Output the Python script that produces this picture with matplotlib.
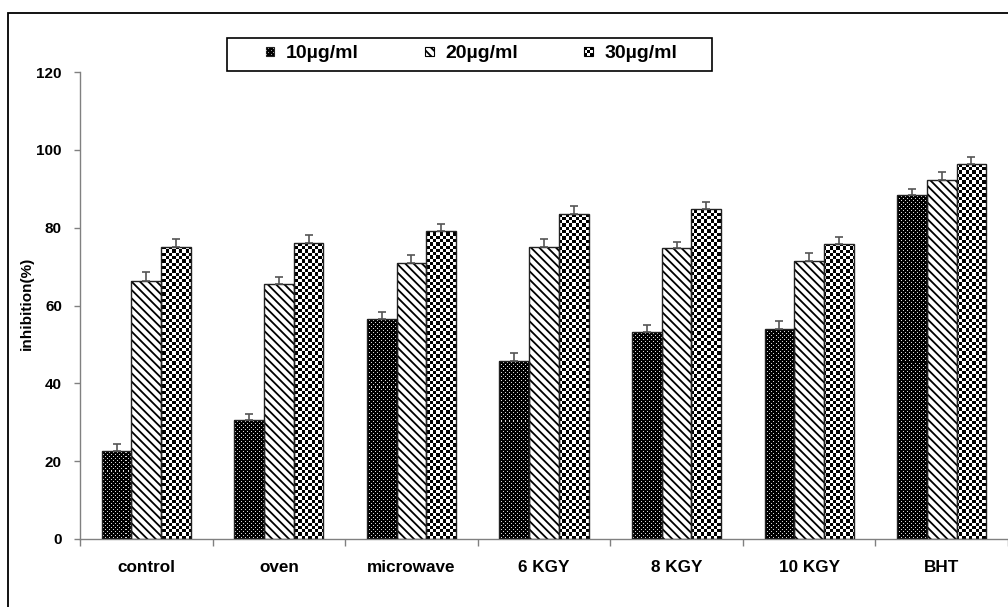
import matplotlib
matplotlib.use('Agg')
import numpy as np
import matplotlib.pyplot as plt
from matplotlib.patches import Rectangle
from matplotlib.legend_handler import HandlerBase

# ---------------- data ----------------
categories = ['control', 'oven', 'microwave', '6 KGY', '8 KGY', '10 KGY', 'BHT']
series_labels = ['10µg/ml', '20µg/ml', '30µg/ml']
vals_10 = [22.7, 30.5, 56.6, 45.8, 53.1, 53.9, 88.4]
vals_20 = [66.3, 65.5, 70.9, 75.1, 74.7, 71.4, 92.2]
vals_30 = [75.0, 76.0, 79.2, 83.5, 84.9, 75.8, 96.3]
err_10 = [1.7, 1.5, 1.7, 1.9, 1.8, 2.0, 1.5]
err_20 = [2.2, 1.7, 2.0, 2.1, 1.7, 2.1, 2.0]
err_30 = [2.0, 2.0, 1.8, 2.1, 1.7, 1.8, 1.8]
yticks = [0, 20, 40, 60, 80, 100, 120]

plt.rcParams['font.family'] = ['Liberation Sans', 'DejaVu Sans']
plt.rcParams['font.weight'] = 'bold'
plt.rcParams['hatch.linewidth'] = 1.3

W_PX, H_PX = 1008, 607
fig = plt.figure(figsize=(W_PX / 100, H_PX / 100), dpi=100)
ax_l, ax_r, ax_t, ax_b = 80, 1008, 72, 539
ax = fig.add_axes([ax_l / W_PX, 1 - ax_b / H_PX, (ax_r - ax_l) / W_PX, (ax_b - ax_t) / H_PX])

x = np.arange(len(categories))
bw = 0.224
XL = (-0.5, len(categories) - 0.5)
YL = (0, 120)
edge_c = '#222222'

# pattern images (pixel resolution)
apw, aph = ax_r - ax_l, ax_b - ax_t
yy, xx = np.mgrid[0:aph, 0:apw]
dots = np.zeros((aph, apw))
dots[((xx % 4) == 1) & ((yy % 4) == 1)] = 0.85
dots[((xx % 4) == 3) & ((yy % 4) == 3)] = 0.85
nxq, nyq = int(round(apw / 3.3)), int(round(aph / 3.3))
qy, qx = np.mgrid[0:nyq, 0:nxq]
checker = ((qx + qy) % 2).astype(float)

def patterned(xpos, vals, pattern):
    bars = ax.bar(xpos, vals, bw, color='white', linewidth=0, zorder=1)
    for b in bars:
        im = ax.imshow(pattern, cmap='gray', vmin=0, vmax=1, extent=(XL[0], XL[1], YL[0], YL[1]),
                       origin='lower', aspect='auto', interpolation='nearest', zorder=2)
        im.set_clip_path(b)
    return bars

# 10 µg/ml : dark dotted
patterned(x - bw, vals_10, dots)
# 20 µg/ml : diagonal stripes
ax.bar(x, vals_20, bw, color='white', edgecolor='black', hatch='\\\\\\\\', linewidth=0, zorder=1)
# 30 µg/ml : checkerboard
patterned(x + bw, vals_30, 1 - checker)

for off, v, e in [(-bw, vals_10, err_10), (0, vals_20, err_20), (bw, vals_30, err_30)]:
    ax.bar(x + off, v, bw, fill=False, edgecolor=edge_c, linewidth=1.0, zorder=3)
    ax.errorbar(x + off, v, yerr=[np.zeros(len(e)), e], fmt='none', ecolor='#555555',
                elinewidth=1.2, capsize=2.6, capthick=1.2, zorder=4)

ax.set_xlim(*XL)
ax.set_ylim(*YL)
ax.set_yticks(yticks)
ax.set_xticks(x)
ax.set_xticklabels(categories, fontsize=12.3, fontweight='bold')
ax.set_xticks(np.arange(-0.5, len(categories), 1), minor=True)
ax.tick_params(axis='x', which='major', length=0, pad=15)
ax.tick_params(axis='x', which='minor', length=5, width=1, color='#808080')
ax.tick_params(axis='y', length=4, width=1, color='#808080', pad=9, labelsize=11)
for lab in ax.get_yticklabels():
    lab.set_fontweight('bold')
for s in ['top', 'right']:
    ax.spines[s].set_visible(False)
for s in ['left', 'bottom']:
    ax.spines[s].set_color('#808080')
    ax.spines[s].set_linewidth(1.0)
ax.set_ylabel('inhibition(%)', fontsize=11, fontweight='bold')
ax.yaxis.set_label_coords(-0.05, 0.505)

# ---------------- legend ----------------
class PatternHandler(HandlerBase):
    def __init__(self, kind):
        super().__init__()
        self.kind = kind

    def create_artists(self, legend, orig_handle, xdescent, ydescent, width, height, fontsize, trans):
        s = min(width, height)
        x0, y0 = -xdescent + (width - s) / 2, -ydescent + (height - s) / 2
        width = height = s
        arts = []
        if self.kind == 'dots':
            arts.append(Rectangle((x0, y0), width, height, fc='black', ec=edge_c, lw=0.8, transform=trans))
            n = 4
            for i in range(n):
                for j in range(n):
                    if (i + j) % 2 == 0:
                        arts.append(Rectangle((x0 + (i + 0.35) * width / n, y0 + (j + 0.35) * height / n),
                                              width / n * 0.4, height / n * 0.4, fc='#9a9a9a', lw=0,
                                              transform=trans))
        elif self.kind == 'stripes':
            arts.append(Rectangle((x0, y0), width, height, fc='white', ec='black', hatch='\\\\\\\\',
                                  lw=0.8, transform=trans))
        else:
            n = 3
            for i in range(n):
                for j in range(n):
                    c = 'black' if (i + j) % 2 == 0 else 'white'
                    arts.append(Rectangle((x0 + i * width / n, y0 + j * height / n), width / n, height / n,
                                          fc=c, lw=0, transform=trans))
            arts.append(Rectangle((x0, y0), width, height, fill=False, ec='black', lw=0.8, transform=trans))
        return arts

hs = [Rectangle((0, 0), 1, 1) for _ in range(3)]
kinds = ['dots', 'stripes', 'checker']
leg = fig.legend(hs, series_labels, handler_map={h: PatternHandler(k) for h, k in zip(hs, kinds)},
                 loc='center', bbox_to_anchor=(471.5 / W_PX, 1 - 54 / H_PX), bbox_transform=fig.transFigure,
                 ncol=3, frameon=False, prop={'size': 14, 'weight': 'bold'},
                 handlelength=0.45, handleheight=0.45, handletextpad=0.6, columnspacing=3.4,
                 borderpad=0, borderaxespad=0)
fig.add_artist(Rectangle((227 / W_PX, 1 - 70.5 / H_PX), 485 / W_PX, 32.5 / H_PX, transform=fig.transFigure,
                         fill=False, ec='black', lw=1.2))

# outer frame
fig.add_artist(Rectangle((8 / W_PX, -0.1), 1.2, 1 - 13 / H_PX + 0.1, transform=fig.transFigure,
                         fill=False, ec='black', lw=1.3))

fig.savefig('out.png', dpi=100)
